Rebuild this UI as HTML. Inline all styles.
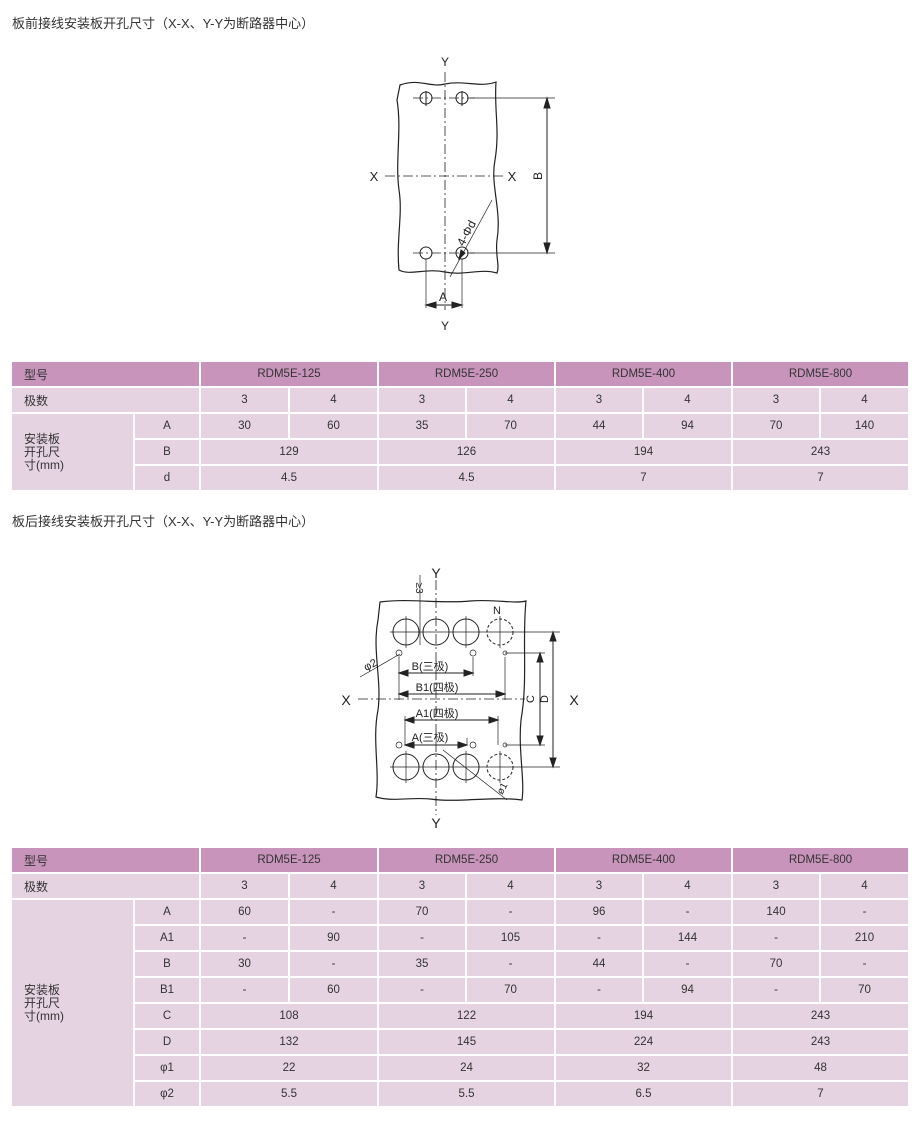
<!DOCTYPE html>
<html><head><meta charset="utf-8"><style>
body{margin:0;width:920px;height:1122px;background:#fff;position:relative;overflow:hidden;font-family:"Liberation Sans","Noto Sans CJK SC",sans-serif;color:#333}
.t{position:absolute;font-size:13px;left:12px}
.c{position:absolute;background:#e6d3e2;font-size:11.5px;display:flex;align-items:center;justify-content:center;height:24px}
.h{background:#c994bb}
.L{justify-content:flex-start;padding-left:12px;box-sizing:border-box;font-size:12px}
.a{left:12px;width:121px}.b{left:135px;width:64px}.ab{left:12px;width:187px}
.g1{left:201px;width:176px}.g2{left:379px;width:175px}.g3{left:556px;width:175px}.g4{left:733px;width:175px}
.h1{left:201px;width:87px}.h2{left:290px;width:87px}.h3{left:379px;width:86px}.h4{left:467px;width:87px}
.h5{left:556px;width:86px}.h6{left:644px;width:87px}.h7{left:733px;width:86px}.h8{left:821px;width:87px}
.t0{top:362px}.t1{top:388px}.t2{top:414px}.t3{top:440px}.t4{top:466px}
.u0{top:848px}.u1{top:874px}.u2{top:900px}.u3{top:926px}.u4{top:952px}.u5{top:978px}.u6{top:1004px}.u7{top:1030px}.u8{top:1056px}.u9{top:1082px}
.lab{line-height:13px;font-size:12px;align-items:center}
svg{position:absolute;left:0;top:0}
svg text{font-family:"Liberation Sans","Noto Sans CJK SC",sans-serif;fill:#222}
</style></head><body>
<div class="t" style="top:13px">板前接线安装板开孔尺寸（X-X、Y-Y为断路器中心）</div>
<div class="t" style="top:511px">板后接线安装板开孔尺寸（X-X、Y-Y为断路器中心）</div>

<svg width="920" height="1122" viewBox="0 0 920 1122" fill="none" stroke="#222" stroke-width="1">
<path d="M400,85 C420,78 430,88 445,84 C465,80 480,88 496,82 C494,110 500,130 495,160 C490,185 502,210 497,240 C495,255 500,265 497,273 C480,268 465,276 445,272 C425,268 410,276 399,270 C396,240 403,215 399,190 C395,160 402,130 397,100 Z" stroke-width="1.2"/>
<g stroke-dasharray="10,3,2,3" stroke-width="0.8"><line x1="445" y1="72" x2="445" y2="310"/><line x1="385" y1="176" x2="505" y2="176"/>
<line x1="413" y1="98" x2="475" y2="98"/><line x1="413" y1="253" x2="475" y2="253"/></g>
<circle cx="426" cy="98" r="6"/><circle cx="462" cy="98" r="6"/><circle cx="426" cy="253" r="6"/><circle cx="462" cy="253" r="6"/>
<line x1="426" y1="91" x2="426" y2="106"/><line x1="462" y1="91" x2="462" y2="106"/>
<line x1="470" y1="98" x2="555" y2="98" stroke-width="0.7"/><line x1="470" y1="253" x2="555" y2="253" stroke-width="0.7"/>
<line x1="547" y1="98" x2="547" y2="253"/>
<path d="M547,98 l-3,10 h6z M547,253 l-3,-10 h6z" fill="#222"/>
<line x1="426" y1="259" x2="426" y2="308" stroke-width="0.7"/><line x1="462" y1="259" x2="462" y2="308" stroke-width="0.7"/>
<line x1="426" y1="305" x2="462" y2="305"/><path d="M426,305 l10,-3 v6z M462,305 l-10,-3 v6z" fill="#222"/>
<line x1="450" y1="277" x2="492" y2="200" stroke-width="0.7"/><path d="M459,259 l2,-9 4,3z" fill="#222"/>
<text x="445" y="66" font-size="12" text-anchor="middle" stroke="none">Y</text>
<text x="445" y="330" font-size="12" text-anchor="middle" stroke="none">Y</text>
<text x="374" y="181" font-size="13" text-anchor="middle" stroke="none">X</text>
<text x="512" y="181" font-size="13" text-anchor="middle" stroke="none">X</text>
<text x="443" y="301" font-size="12" text-anchor="middle" stroke="none">A</text>
<text transform="translate(542,176) rotate(-90)" font-size="12" text-anchor="middle" stroke="none">B</text>
<text transform="translate(470,235) rotate(-62)" font-size="12" text-anchor="middle" stroke="none">4-Φd</text>

<path d="M380,602 C410,598 440,604 470,601 C495,599 515,604 526,601 C522,640 528,680 521,720 C518,750 525,780 522,800 C490,796 460,803 430,799 C410,797 392,802 376,797 C380,770 372,740 378,710 C382,680 372,650 378,620 Z" stroke-width="1.2"/>
<g stroke-dasharray="10,3,2,3" stroke-width="0.8"><line x1="436" y1="580" x2="436" y2="815"/><line x1="358" y1="699" x2="525" y2="699"/></g>
<g stroke-width="1"><circle cx="406" cy="632" r="13"/><circle cx="436" cy="632" r="13"/><circle cx="466" cy="632" r="13"/>
<circle cx="406" cy="767" r="13"/><circle cx="436" cy="767" r="13"/><circle cx="466" cy="767" r="13"/></g>
<g stroke-dasharray="3,2"><circle cx="500" cy="632" r="13"/><circle cx="500" cy="767" r="13"/></g>
<g stroke-width="0.7"><line x1="390" y1="632" x2="560" y2="632"/><line x1="390" y1="767" x2="560" y2="767"/>
<line x1="406" y1="616" x2="406" y2="648"/><line x1="466" y1="616" x2="466" y2="648"/><line x1="500" y1="616" x2="500" y2="648"/>
<line x1="406" y1="751" x2="406" y2="783"/><line x1="466" y1="751" x2="466" y2="783"/><line x1="500" y1="751" x2="500" y2="783"/>
<line x1="505" y1="653" x2="545" y2="653"/><line x1="505" y1="745" x2="545" y2="745"/>
<line x1="399" y1="657" x2="399" y2="700"/><line x1="473" y1="657" x2="473" y2="676"/><line x1="505" y1="657" x2="505" y2="700"/>
<line x1="405" y1="716" x2="405" y2="745"/><line x1="498" y1="716" x2="498" y2="745"/><line x1="467" y1="738" x2="467" y2="745"/>
<line x1="420" y1="575" x2="420" y2="645"/><line x1="360" y1="677" x2="400" y2="654"/><line x1="443" y1="750" x2="507" y2="800"/></g>
<g stroke-width="0.7"><circle cx="399" cy="653" r="3"/><circle cx="473" cy="653" r="3"/><circle cx="399" cy="745" r="3"/><circle cx="473" cy="745" r="3"/>
<circle cx="505" cy="653" r="2"/><circle cx="505" cy="745" r="2"/></g>
<line x1="399" y1="673" x2="473" y2="673"/><line x1="399" y1="694" x2="505" y2="694"/>
<line x1="405" y1="720" x2="498" y2="720"/><line x1="405" y1="745" x2="467" y2="745"/>
<line x1="540" y1="653" x2="540" y2="745"/><line x1="553" y1="632" x2="553" y2="767"/>
<path d="M399,673 l9,-3 v6z M473,673 l-9,-3 v6z M399,694 l9,-3 v6z M505,694 l-9,-3 v6z M405,720 l9,-3 v6z M498,720 l-9,-3 v6z M405,745 l9,-3 v6z M467,745 l-9,-3 v6z M540,653 l-3,9 h6z M540,745 l-3,-9 h6z M553,632 l-3,9 h6z M553,767 l-3,-9 h6z" fill="#222"/>
<text x="436" y="578" font-size="14" text-anchor="middle" stroke="none">Y</text>
<text x="436" y="828" font-size="14" text-anchor="middle" stroke="none">Y</text>
<text x="346" y="705" font-size="14" text-anchor="middle" stroke="none">X</text>
<text x="574" y="705" font-size="14" text-anchor="middle" stroke="none">X</text>
<text x="430" y="670" font-size="11" text-anchor="middle" stroke="none">B(三极)</text>
<text x="437" y="691" font-size="11" text-anchor="middle" stroke="none">B1(四极)</text>
<text x="437" y="717" font-size="11" text-anchor="middle" stroke="none">A1(四极)</text>
<text x="430" y="741" font-size="11" text-anchor="middle" stroke="none">A(三极)</text>
<text transform="translate(534,699) rotate(-90)" font-size="11" text-anchor="middle" stroke="none">C</text>
<text transform="translate(548,699) rotate(-90)" font-size="11" text-anchor="middle" stroke="none">D</text>
<text transform="translate(372,668) rotate(-28)" font-size="11" text-anchor="middle" stroke="none">φ2</text>
<text transform="translate(505,790) rotate(-62)" font-size="10" text-anchor="middle" stroke="none">ø1</text>
<text transform="translate(416,588) rotate(90)" font-size="10" text-anchor="middle" stroke="none">≥3</text>
<text x="497" y="614" font-size="11" text-anchor="middle" stroke="none">N</text>
</svg>

<div class="c h L ab t0">型号</div>
<div class="c h g1 t0">RDM5E-125</div><div class="c h g2 t0">RDM5E-250</div><div class="c h g3 t0">RDM5E-400</div><div class="c h g4 t0">RDM5E-800</div>
<div class="c L ab t1">极数</div>
<div class="c h1 t1">3</div><div class="c h2 t1">4</div><div class="c h3 t1">3</div><div class="c h4 t1">4</div><div class="c h5 t1">3</div><div class="c h6 t1">4</div><div class="c h7 t1">3</div><div class="c h8 t1">4</div>
<div class="c L a lab" style="top:414px;height:76px">安装板<br>开孔尺<br>寸(mm)</div>
<div class="c b t2">A</div><div class="c b t3">B</div><div class="c b t4">d</div>
<div class="c h1 t2">30</div><div class="c h2 t2">60</div><div class="c h3 t2">35</div><div class="c h4 t2">70</div><div class="c h5 t2">44</div><div class="c h6 t2">94</div><div class="c h7 t2">70</div><div class="c h8 t2">140</div>
<div class="c g1 t3">129</div><div class="c g2 t3">126</div><div class="c g3 t3">194</div><div class="c g4 t3">243</div>
<div class="c g1 t4">4.5</div><div class="c g2 t4">4.5</div><div class="c g3 t4">7</div><div class="c g4 t4">7</div>

<div class="c h L ab u0">型号</div>
<div class="c h g1 u0">RDM5E-125</div><div class="c h g2 u0">RDM5E-250</div><div class="c h g3 u0">RDM5E-400</div><div class="c h g4 u0">RDM5E-800</div>
<div class="c L ab u1">极数</div>
<div class="c h1 u1">3</div><div class="c h2 u1">4</div><div class="c h3 u1">3</div><div class="c h4 u1">4</div><div class="c h5 u1">3</div><div class="c h6 u1">4</div><div class="c h7 u1">3</div><div class="c h8 u1">4</div>
<div class="c L a lab" style="top:900px;height:206px">安装板<br>开孔尺<br>寸(mm)</div>
<div class="c b u2">A</div><div class="c b u3">A1</div><div class="c b u4">B</div><div class="c b u5">B1</div><div class="c b u6">C</div><div class="c b u7">D</div><div class="c b u8">φ1</div><div class="c b u9">φ2</div>
<div class="c h1 u2">60</div><div class="c h2 u2">-</div><div class="c h3 u2">70</div><div class="c h4 u2">-</div><div class="c h5 u2">96</div><div class="c h6 u2">-</div><div class="c h7 u2">140</div><div class="c h8 u2">-</div>
<div class="c h1 u3">-</div><div class="c h2 u3">90</div><div class="c h3 u3">-</div><div class="c h4 u3">105</div><div class="c h5 u3">-</div><div class="c h6 u3">144</div><div class="c h7 u3">-</div><div class="c h8 u3">210</div>
<div class="c h1 u4">30</div><div class="c h2 u4">-</div><div class="c h3 u4">35</div><div class="c h4 u4">-</div><div class="c h5 u4">44</div><div class="c h6 u4">-</div><div class="c h7 u4">70</div><div class="c h8 u4">-</div>
<div class="c h1 u5">-</div><div class="c h2 u5">60</div><div class="c h3 u5">-</div><div class="c h4 u5">70</div><div class="c h5 u5">-</div><div class="c h6 u5">94</div><div class="c h7 u5">-</div><div class="c h8 u5">70</div>
<div class="c g1 u6">108</div><div class="c g2 u6">122</div><div class="c g3 u6">194</div><div class="c g4 u6">243</div>
<div class="c g1 u7">132</div><div class="c g2 u7">145</div><div class="c g3 u7">224</div><div class="c g4 u7">243</div>
<div class="c g1 u8">22</div><div class="c g2 u8">24</div><div class="c g3 u8">32</div><div class="c g4 u8">48</div>
<div class="c g1 u9">5.5</div><div class="c g2 u9">5.5</div><div class="c g3 u9">6.5</div><div class="c g4 u9">7</div>
</body></html>
